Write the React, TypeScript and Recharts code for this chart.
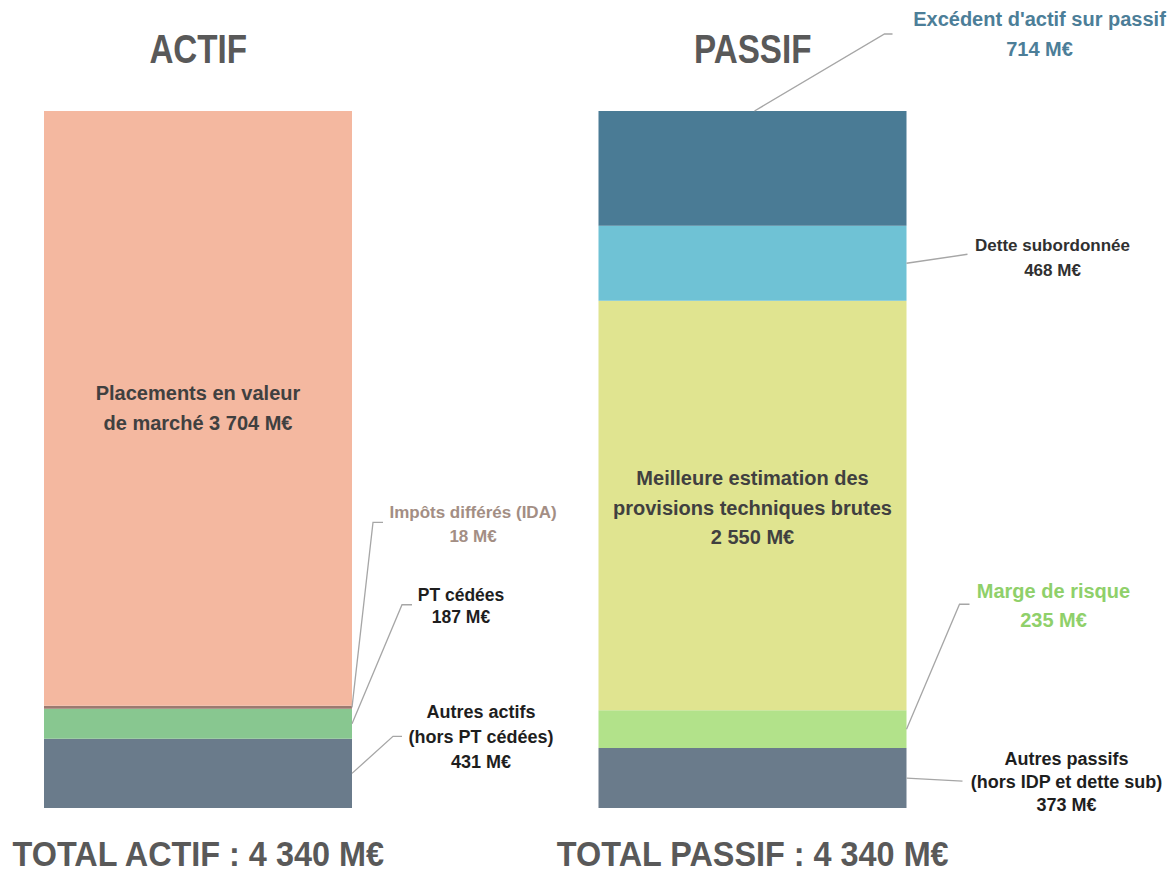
import { BarChart, Bar, XAxis, YAxis, LabelList } from "recharts";

// bilan prudentiel, en M€
const categories = ["ACTIF", "PASSIF"];
const totalTitles = ["TOTAL ACTIF", "TOTAL PASSIF"];

const actifKeys = ["a0", "a1", "a2", "a3"];
const actifNames = [
  ["Autres actifs", "(hors PT cédées)"],
  ["PT cédées"],
  ["Impôts différés (IDA)"],
  ["Placements en valeur", "de marché"],
];
const actifValues = [431, 187, 18, 3704];
const actifColors = ["#6a7b8b", "#88c790", "#9c7a70", "#f4b8a0"];

const passifKeys = ["p0", "p1", "p2", "p3", "p4"];
const passifNames = [
  ["Autres passifs", "(hors IDP et dette sub)"],
  ["Marge de risque"],
  ["Meilleure estimation des", "provisions techniques brutes"],
  ["Dette subordonnée"],
  ["Excédent d'actif sur passif"],
];
const passifValues = [373, 235, 2550, 468, 714];
const passifColors = ["#6a7b8b", "#b2e28a", "#e0e490", "#6fc2d5", "#4a7b95"];

const labelFont = "'Liberation Sans', Arial, sans-serif";
// pas de police étroite installée : on compresse horizontalement
const titleFont = "'Liberation Sans', Arial, sans-serif";

const fmt = (v: number) =>
  `${String(v).replace(/\B(?=(\d{3})+(?!\d))/g, " ")} M€`;
const sum = (arr: number[]) => arr.reduce((a, b) => a + b, 0);

const data = [
  {
    name: categories[0],
    total: `${totalTitles[0]} : ${fmt(sum(actifValues))}`,
    ...Object.fromEntries(actifKeys.map((k, i) => [k, actifValues[i]])),
  },
  {
    name: categories[1],
    total: `${totalTitles[1]} : ${fmt(sum(passifValues))}`,
    ...Object.fromEntries(passifKeys.map((k, i) => [k, passifValues[i]])),
  },
];

type Callout = {
  mode: "inside" | "right" | "top";
  ex?: number;
  ey?: number;
  tail?: number;
  tx: number;
  ty: number;
  gap: number;
  size: number;
  color: string;
  inline?: boolean;
};

// placement des étiquettes, relatif au bloc
const callouts: Record<string, Callout> = {
  a0: { mode: "right", ex: 41, ey: -37, tail: 9, tx: 129, ty: -61, gap: 25, size: 18, color: "#1e1e1e" },
  a1: { mode: "right", ex: 50, ey: -119, tail: 10, tx: 109, ty: -129, gap: 22, size: 17.5, color: "#1e1e1e" },
  a2: { mode: "right", ex: 21, ey: -185, tail: 10, tx: 121, ty: -195, gap: 24, size: 17, color: "#a38e84" },
  a3: { mode: "inside", tx: 0, ty: -15, gap: 30, size: 20, color: "#404040", inline: true },
  p0: { mode: "right", ex: 56, ey: 3, tail: 0, tx: 160, ty: -19, gap: 23, size: 18, color: "#1e1e1e" },
  p1: { mode: "right", ex: 53, ey: -125, tail: 10, tx: 147, ty: -138, gap: 29, size: 20, color: "#8fd06a" },
  p2: { mode: "inside", tx: 0, ty: -27.5, gap: 29.5, size: 20, color: "#404040" },
  p3: { mode: "right", ex: 61, ey: -9, tail: 0, tx: 146, ty: -18, gap: 25, size: 17, color: "#303030" },
  p4: { mode: "top", ex: 130, ey: -77, tail: 8, tx: 285, ty: -92, gap: 30, size: 20, color: "#4c7e98" },
};

const makeLabel = (key: string, names: string[]) => (props: any) => {
  const value = props.value;
  if (value === undefined || value === null || value === "") return null;
  const vb = props.viewBox ?? props;
  const x = Number(vb.x ?? props.x);
  const y = Number(vb.y ?? props.y);
  const w = Number(vb.width ?? props.width);
  const h = Number(vb.height ?? props.height);
  const c = callouts[key];

  let ax = x + w / 2;
  let ay = y + h / 2;
  if (c.mode === "right") ax = x + w;
  if (c.mode === "top") {
    ax = x + w / 2 + 2;
    ay = y;
  }

  const lines = c.inline
    ? [...names.slice(0, -1), `${names[names.length - 1]} ${fmt(Number(value))}`]
    : [...names, fmt(Number(value))];

  return (
    <g>
      {c.mode !== "inside" && (
        <polyline
          points={`${ax},${ay} ${ax + c.ex!},${ay + c.ey!} ${ax + c.ex! + c.tail!},${ay + c.ey!}`}
          fill="none"
          stroke="#a6a6a6"
          strokeWidth={1.3}
        />
      )}
      {lines.map((line, i) => (
        <text
          key={i}
          x={ax + c.tx}
          y={ay + c.ty + i * c.gap}
          textAnchor="middle"
          dominantBaseline="central"
          fontFamily={labelFont}
          fontWeight={700}
          fontSize={c.size}
          fill={c.color}
        >
          {line}
        </text>
      ))}
    </g>
  );
};

const SqueezedText = ({ x, y, size, squeeze, children }: any) => (
  <g transform={`translate(${x},${y}) scale(${squeeze},1)`}>
    <text
      x={0}
      y={0}
      textAnchor="middle"
      fontFamily={titleFont}
      fontWeight={700}
      fontSize={size}
      fill="#595959"
    >
      {children}
    </text>
  </g>
);

const TitleTick = (props: any) => (
  <SqueezedText x={props.x} y={props.y - 48} size={40} squeeze={0.83}>
    {props.payload.value}
  </SqueezedText>
);

const TotalTick = (props: any) => (
  <SqueezedText x={props.x} y={props.y + 58} size={36} squeeze={0.9}>
    {props.payload.value}
  </SqueezedText>
);

export default function App() {
  return (
    <div
      style={{
        position: "fixed",
        left: 0,
        top: 0,
        width: 1176,
        height: 874,
        overflow: "hidden",
        background: "#fff",
      }}
    >
      <div style={{ position: "absolute", left: -79, top: 0 }}>
        <BarChart
          width={1255}
          height={874}
          data={data}
          margin={{ top: 51, right: 146, bottom: 6, left: 0 }}
          barSize={308}
        >
          <XAxis
            xAxisId="top"
            orientation="top"
            dataKey="name"
            height={60}
            axisLine={false}
            tickLine={false}
            tickSize={0}
            tickMargin={0}
            tick={<TitleTick />}
          />
          <XAxis
            xAxisId="bottom"
            orientation="bottom"
            dataKey="total"
            height={60}
            axisLine={false}
            tickLine={false}
            tickSize={0}
            tickMargin={0}
            tick={<TotalTick />}
          />
          <YAxis hide domain={[0, "dataMax"]} />
          {actifKeys.map((k, i) => (
            <Bar
              key={k}
              xAxisId="top"
              dataKey={k}
              stackId="s"
              fill={actifColors[i]}
              isAnimationActive={false}
            >
              <LabelList dataKey={k} content={makeLabel(k, actifNames[i])} />
            </Bar>
          ))}
          {passifKeys.map((k, i) => (
            <Bar
              key={k}
              xAxisId="top"
              dataKey={k}
              stackId="s"
              fill={passifColors[i]}
              isAnimationActive={false}
            >
              <LabelList dataKey={k} content={makeLabel(k, passifNames[i])} />
            </Bar>
          ))}
        </BarChart>
      </div>
    </div>
  );
}
